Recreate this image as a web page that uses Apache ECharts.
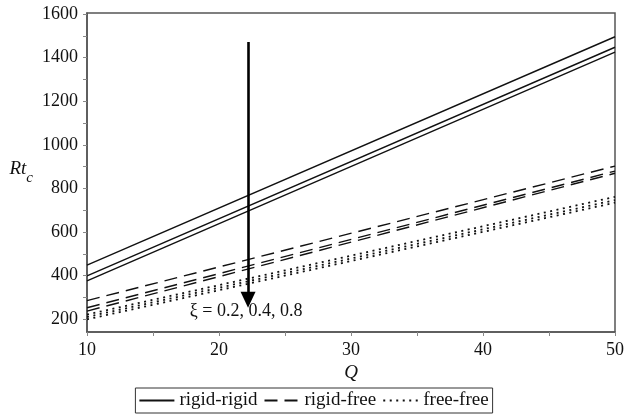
<!DOCTYPE html>
<html lang="en">
<head>
    <meta charset="UTF-8">
    <title>Rt_c vs Q</title>
    <script src="https://cdn.jsdelivr.net/npm/echarts@6/dist/echarts.min.js"></script>
</head>
<body style="margin:0;background:#fff;">
    <div id="chart1" style="width:627px;height:416px;"></div>
    <script>
        var myCharts=echarts.init(document.getElementById("chart1"))
        // Q values at the two ends of each (straight) line
        var qVals=[10,50]
        // xi = 0.2, 0.4, 0.8 for each boundary condition
        var rigidRigid=[[449,1496],[399,1448],[376,1426]]
        var rigidFree=[[286,903],[253,880],[238,870]]
        var freeFree=[[222,762],[211,747],[200,735]]
        var yTicks=[200,400,600,800,1000,1200,1400,1600]
        var yMinorTicks=[200,300,400,500,600,700,800,900,1000,1100,1200,1300,1400,1500,1600]
        var legendNames=["rigid-rigid","rigid-free","free-free"]
        var arrowQ=22.2, arrowFrom=1472, arrowTo=290
        var noteText="ξ = 0.2, 0.4, 0.8", noteQ=22.05, noteY=235

        var font="'Liberation Serif','Times New Roman',serif"
        var styles=[
            {type:"solid",width:1.4},
            {type:[13,7],width:1.4},
            {type:[2,4.5],width:1.8}
        ]
        function pairs(vals){
            return qVals.map(function(q,i){return [q,vals[i]]})
        }
        var series=[]
        ;[rigidRigid,rigidFree,freeFree].forEach(function(group,g){
            group.forEach(function(vals){
                series.push({
                    name:legendNames[g],
                    type:"line",
                    data:pairs(vals),
                    symbol:"none",
                    silent:true,
                    itemStyle:{color:"#111"},
                    lineStyle:{color:"#111",width:styles[g].width,type:styles[g].type}
                })
            })
        })
        // arrow and note
        series.push({
            name:"note",
            type:"line",
            data:[],
            markLine:{
                silent:true,
                symbol:["none","triangle"],
                symbolSize:[15,16],
                label:{show:false},
                lineStyle:{color:"#000",width:2.6,type:"solid"},
                data:[[{coord:[arrowQ,arrowFrom]},{coord:[arrowQ,arrowTo]}]]
            },
            markPoint:{
                silent:true,
                symbol:"circle",
                symbolSize:0,
                label:{show:true,position:"inside",formatter:noteText,color:"#111",fontFamily:font,fontSize:18},
                data:[{coord:[noteQ,noteY]}]
            }
        })

        var option={
            animation:false,
            backgroundColor:"#fff",
            grid:{left:87,right:9,top:13,bottom:84,show:true,borderColor:"#555",borderWidth:1.5,backgroundColor:"transparent"},
            legend:{
                data:legendNames,
                left:"center",
                bottom:3,
                itemWidth:35,
                itemHeight:14,
                itemGap:6,
                padding:[3,4,3,3],
                borderColor:"#333",
                borderWidth:1,
                itemStyle:{opacity:0},
                textStyle:{fontFamily:font,fontSize:19,color:"#111"}
            },
            xAxis:{
                type:"value",
                min:10,
                max:50,
                interval:10,
                name:"Q",
                nameLocation:"middle",
                nameGap:25,
                nameTextStyle:{fontFamily:font,fontSize:19,fontStyle:"italic",color:"#111"},
                axisLine:{show:true,lineStyle:{color:"#555",width:1.5}},
                axisTick:{show:true,inside:false,length:4,lineStyle:{color:"#888"}},
                minorTick:{show:true,splitNumber:2,length:4,lineStyle:{color:"#888"}},
                splitLine:{show:false},
                axisLabel:{fontFamily:font,fontSize:18,color:"#111",margin:9,formatter:function(v){return String(v)}}
            },
            yAxis:{
                type:"value",
                min:142,
                max:1605,
                name:"{a|Rt}{b|c}",
                nameLocation:"middle",
                nameRotate:0,
                nameGap:54,
                nameTextStyle:{
                    rich:{
                        a:{fontFamily:font,fontSize:19,fontStyle:"italic",color:"#111",verticalAlign:"top",lineHeight:26},
                        b:{fontFamily:font,fontSize:15,fontStyle:"italic",color:"#111",verticalAlign:"bottom",lineHeight:26,padding:[0,0,0,0]}
                    }
                },
                axisLine:{show:true,lineStyle:{color:"#555",width:1.5}},
                axisTick:{show:true,inside:false,length:4,customValues:yMinorTicks,lineStyle:{color:"#888"}},
                splitLine:{show:false},
                axisLabel:{fontFamily:font,fontSize:18,color:"#111",margin:9,customValues:yTicks,formatter:function(v){return String(v)}}
            },
            series:series
        }
        myCharts.setOption(option)
    </script>
</body>
</html>
